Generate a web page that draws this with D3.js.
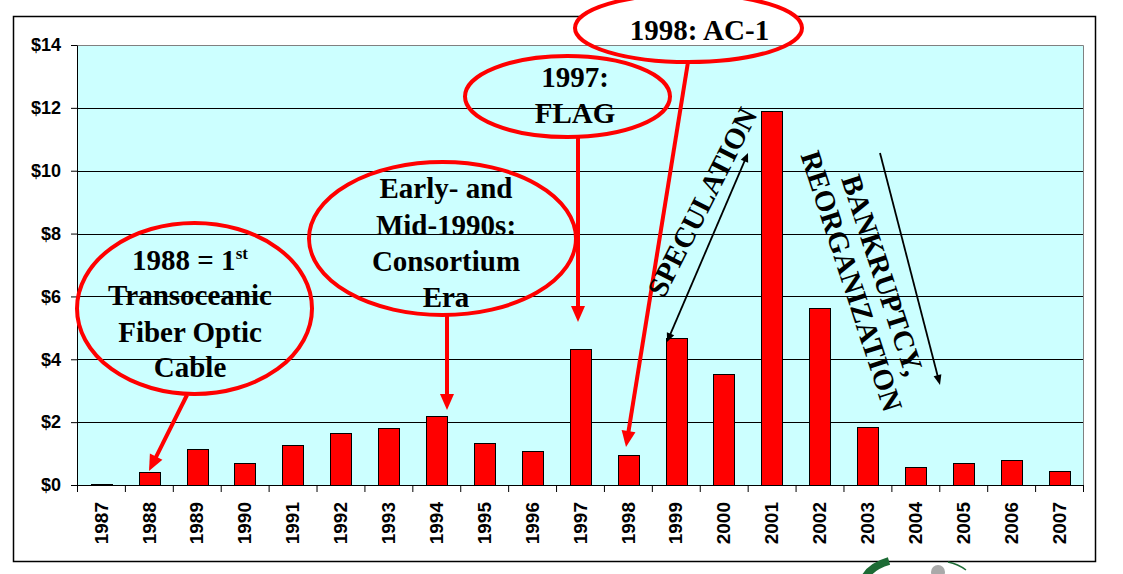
<!DOCTYPE html>
<html><head><meta charset="utf-8">
<script src="https://cdn.jsdelivr.net/npm/d3@7"></script>
<style>body{margin:0;background:#fff;} svg{display:block;}</style>
</head><body>
<svg id="chart" width="1123" height="574"></svg>
<script>
const years = ["1987","1988","1989","1990","1991","1992","1993","1994","1995","1996","1997","1998","1999","2000","2001","2002","2003","2004","2005","2006","2007"];
const values = [0.02,0.40,1.13,0.69,1.26,1.67,1.80,2.18,1.35,1.07,4.33,0.97,4.68,3.53,11.89,5.63,1.83,0.56,0.69,0.78,0.43];
const yTickValues = [0,2,4,6,8,10,12,14];
const yTickLabels = ["$0","$2","$4","$6","$8","$10","$12","$14"];

const svg = d3.select("#chart");
const plot = {left:77, right:1083, top:45, bottom:485};
const y = d3.scaleLinear().domain([0,14]).range([plot.bottom, plot.top]);
const pad = 0.572;
const x = d3.scaleBand().domain(years).range([plot.left, plot.right]).paddingInner(pad).paddingOuter(pad/2);
const xCell = d3.scaleLinear().domain([0, years.length]).range([plot.left, plot.right]);
const serif = "'Liberation Serif','Times New Roman',serif";
const sans = "'Liberation Sans',Arial,sans-serif";
const RED = "#FF0000";

// outer frame
svg.append("rect").attr("x",13.5).attr("y",16.5).attr("width",1082).attr("height",545)
  .attr("fill","#fff").attr("stroke","#000").attr("stroke-width",1.5);

// plot background
svg.append("rect").attr("x",plot.left).attr("y",plot.top)
  .attr("width",plot.right-plot.left).attr("height",plot.bottom-plot.top).attr("fill","#CCFFFF");

// gridlines
svg.append("g").selectAll("line").data(yTickValues.filter(d=>d>0 && d<14)).join("line")
  .attr("x1",plot.left).attr("x2",plot.right)
  .attr("y1",d=>Math.round(y(d))+0.5).attr("y2",d=>Math.round(y(d))+0.5)
  .attr("stroke","#000").attr("stroke-width",1);

// bars
svg.append("g").selectAll("rect").data(values).join("rect")
  .attr("x",(d,i)=>Math.round(x(years[i]))+0.5)
  .attr("width",Math.round(x.bandwidth()))
  .attr("y",d=>Math.round(y(d))+0.5)
  .attr("height",d=>Math.max(0, plot.bottom - Math.round(y(d))))
  .attr("fill",RED).attr("stroke","#000").attr("stroke-width",1);

// plot border top/right (gray)
svg.append("path").attr("d",`M${plot.left},${plot.top+0.5}H${plot.right+0.5}V${plot.bottom}`)
  .attr("fill","none").attr("stroke","#808080").attr("stroke-width",1);

// y axis
const gy = svg.append("g").attr("transform",`translate(${plot.left},0)`)
  .call(d3.axisLeft(y).tickValues(yTickValues).tickFormat((d,i)=>yTickLabels[i]).tickSize(6).tickSizeOuter(0).tickPadding(10));
gy.selectAll("text").attr("font-family",sans).attr("font-weight","bold").attr("font-size",18).attr("fill","#000");
gy.selectAll("line,path").attr("stroke","#000");

// x axis (ticks at cell boundaries)
const gx = svg.append("g").attr("transform",`translate(0,${plot.bottom})`)
  .call(d3.axisBottom(xCell).tickValues(d3.range(years.length+1)).tickFormat("").tickSize(7).tickSizeOuter(0));
gx.selectAll("line,path").attr("stroke","#000");

svg.append("g").selectAll("text").data(years).join("text")
  .attr("transform",d=>`translate(${x(d)+x.bandwidth()/2},502) rotate(-90)`)
  .attr("text-anchor","end").attr("dy","0.35em")
  .attr("font-family",sans).attr("font-weight","bold").attr("font-size",19).attr("fill","#000")
  .text(d=>d);

// ---------- annotations ----------
const ann = svg.append("g");
function ellipse(cx,cy,rx,ry){
  ann.append("ellipse").attr("cx",cx).attr("cy",cy).attr("rx",rx).attr("ry",ry)
    .attr("fill","none").attr("stroke",RED).attr("stroke-width",4);
}
function arrow(x1,y1,x2,y2,color,w,hl,hw,both){
  const a = Math.atan2(y2-y1,x2-x1);
  const head = (px,py,ang)=>{
    const bx = px - hl*Math.cos(ang), by = py - hl*Math.sin(ang);
    const nx = -Math.sin(ang)*hw/2, ny = Math.cos(ang)*hw/2;
    ann.append("path").attr("d",`M${px},${py}L${bx+nx},${by+ny}L${bx-nx},${by-ny}Z`).attr("fill",color);
  };
  const sx = both ? x1 + (hl*0.8)*Math.cos(a) : x1, sy = both ? y1 + (hl*0.8)*Math.sin(a) : y1;
  ann.append("line").attr("x1",sx).attr("y1",sy)
    .attr("x2",x2 - hl*0.8*Math.cos(a)).attr("y2",y2 - hl*0.8*Math.sin(a))
    .attr("stroke",color).attr("stroke-width",w);
  head(x2,y2,a);
  if(both) head(x1,y1,a+Math.PI);
}
function lines(cx, baselines, texts, size){
  texts.forEach((t,i)=>{
    ann.append("text").attr("x",cx).attr("y",baselines[i]).attr("text-anchor","middle")
      .attr("font-family",serif).attr("font-weight","bold").attr("font-size",size).attr("fill","#000").text(t);
  });
}

// white cover for the top frame line inside AC-1 ellipse (above plot only)
svg.append("clipPath").attr("id","abovePlot").append("rect").attr("x",0).attr("y",0).attr("width",1123).attr("height",plot.top);
ann.append("ellipse").attr("cx",688.5).attr("cy",28).attr("rx",113.5).attr("ry",34)
  .attr("fill","#fff").attr("clip-path","url(#abovePlot)");

// 1988 ellipse
ellipse(194.5,308.5,117.5,85.5);
const t1 = ann.append("text").attr("x",190).attr("y",270).attr("text-anchor","middle")
  .attr("font-family",serif).attr("font-weight","bold").attr("font-size",29).attr("fill","#000");
t1.append("tspan").text("1988 = 1");
t1.append("tspan").attr("font-size",17).attr("dy",-11).text("st");
lines(190,[305,342,377],["Transoceanic","Fiber Optic","Cable"],29);
arrow(187,395,149,471,RED,4,16,14,false);

// Early/Mid 1990s
ellipse(442.5,238.5,133.5,76.5);
lines(446,[198,235,271,307],["Early- and","Mid-1990s:","Consortium","Era"],29);
arrow(447,315,447,410,RED,4,16,14,false);

// 1997 FLAG
ellipse(567.5,96.5,102.5,40.5);
lines(575,[87,123],["1997:","FLAG"],29);
arrow(578,137,578,322,RED,4,16,14,false);

// 1998 AC-1
ellipse(688.5,28,113.5,34);
lines(699.5,[40],["1998: AC-1"],29);
arrow(688,62,626,447,RED,4,16,14,false);

// SPECULATION
ann.append("text").attr("transform","translate(702,202) rotate(-63)")
  .attr("text-anchor","middle").attr("dy","0.35em")
  .attr("font-family",serif).attr("font-weight","bold").attr("font-size",29).attr("fill","#000").text("SPECULATION");
arrow(667,342,748,153,"#000",1.8,9,8,true);

// BANKRUPTCY, REORGANIZATION
ann.append("text").attr("transform","translate(883,275) rotate(72)")
  .attr("text-anchor","middle").attr("dy","0.35em")
  .attr("font-family",serif).attr("font-weight","bold").attr("font-size",29).attr("fill","#000").text("BANKRUPTCY,");
ann.append("text").attr("transform","translate(852,281) rotate(72)")
  .attr("text-anchor","middle").attr("dy","0.35em")
  .attr("font-family",serif).attr("font-weight","bold").attr("font-size",29).attr("fill","#000").text("REORGANIZATION");
arrow(880,153,940,385,"#000",1.8,10,8,false);

// partial logo at bottom
const logo = svg.append("g");
logo.append("path").attr("d","M866,576 Q872,566 889,561").attr("fill","none").attr("stroke","#1d6b35").attr("stroke-width",8);
logo.append("path").attr("d","M948,562 Q958,564 966,570").attr("fill","none").attr("stroke","#1d6b35").attr("stroke-width",1.5);
logo.append("circle").attr("cx",938).attr("cy",572).attr("r",7).attr("fill","#a9a9a9");
</script>
</body></html>
